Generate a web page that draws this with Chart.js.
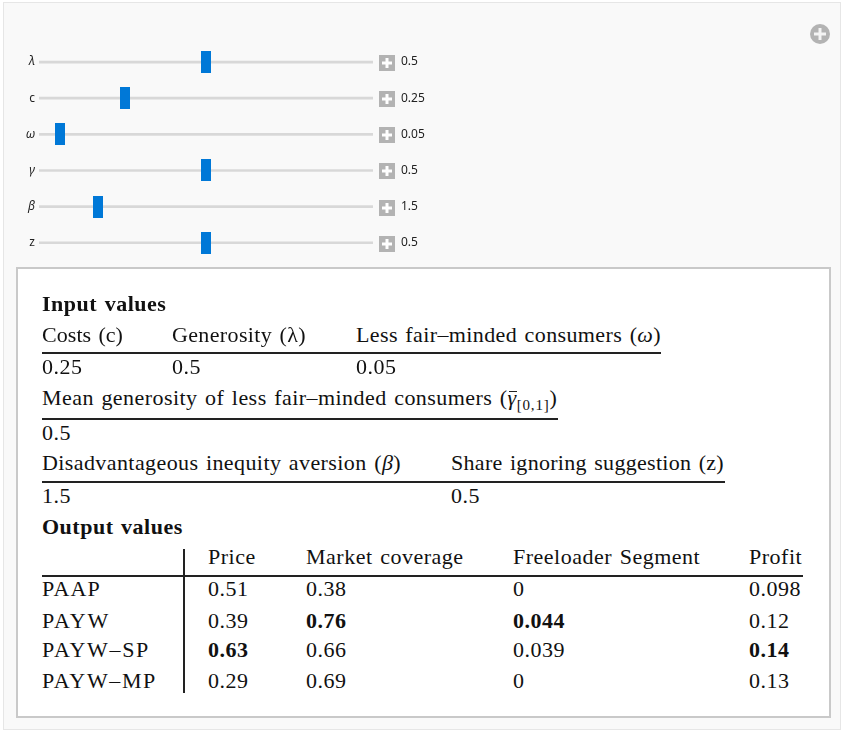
<!DOCTYPE html>
<html><head><meta charset="utf-8">
<style>
html,body{margin:0;padding:0;background:#fff;width:843px;height:732px;overflow:hidden}
#panel{position:absolute;left:3px;top:2px;width:836px;height:726px;background:#f9f9f9;border:1px solid #e6e6e6}
#box{position:absolute;left:16px;top:267px;width:811px;height:447px;background:#fff;border:2px solid #c9c9c9}
#cv{position:absolute;left:0;top:0}
.t{position:absolute;white-space:nowrap;font:22px "Liberation Serif",serif;color:#111;line-height:24px;letter-spacing:.5px;word-spacing:1.6px}
.b{font-weight:bold}
.r{position:absolute;background:#222}
sub{font-size:15px;line-height:0;vertical-align:-5px;letter-spacing:.8px}
.gb{position:relative;font-style:italic}
.gb::before{content:"";position:absolute;left:1px;right:0;top:6px;height:1px;background:#222}
</style></head><body>
<div id="panel"></div><div id="box"></div>
<canvas id="cv" width="843" height="296"></canvas>
<div id="tbl"></div>
<script src="https://cdn.jsdelivr.net/npm/chart.js@4/dist/chart.umd.min.js"></script>
<script>
const sliderLabels=["λ","c","ω","γ","β","z"];
const sliderValues=[0.5,0.25,0.05,0.5,1.5,0.5];
const sliderMaxima=[1,1,1,1,9,1];
const inputTitle="Input values";
const inputHead1=["Costs (c)","Generosity (λ)","Less fair–minded consumers (<i>ω</i>)"];
const inputVals1=["0.25","0.5","0.05"];
const inputHead2=['Mean generosity of less fair–minded consumers (<span class="gb">γ</span><sub>[0,1]</sub>)'];
const inputVals2=["0.5"];
const inputHead3=["Disadvantageous inequity aversion (<i>β</i>)","Share ignoring suggestion (z)"];
const inputVals3=["1.5","0.5"];
const outputTitle="Output values";
const outputCols=["Price","Market coverage","Freeloader Segment","Profit"];
const outputRows=["PAAP","PAYW","PAYW–SP","PAYW–MP"];
const priceVals=["0.51","0.39","0.63","0.29"];
const coverageVals=["0.38","0.76","0.66","0.69"];
const freeloaderVals=["0","0.044","0.039","0"];
const profitVals=["0.098","0.12","0.14","0.13"];
const boldCells=[[2,0],[1,1],[1,2],[2,3]]; // [row, column]

const thumb=document.createElement('canvas');thumb.width=10;thumb.height=22;
const tc=thumb.getContext('2d');tc.fillStyle='#0078d7';tc.fillRect(0,0,10,22);

const decor={id:'decor',afterDraw(ch){
  const c=ch.ctx,ys=ch.scales.y,r=ch.chartArea.right;
  c.save();
  sliderLabels.forEach((_,i)=>{
    const y=Math.round(ys.getPixelForTick(i))+1,x=r+6;
    c.fillStyle='#b3b3b3';c.fillRect(x,y-8,16,16);
    c.fillStyle='#fff';c.fillRect(x+3,y-1.5,10,3);c.fillRect(x+6.5,y-5,3,10);
  });
  c.fillStyle='#b3b3b3';c.beginPath();c.arc(820,34,10,0,Math.PI*2);c.fill();
  c.fillStyle='#f4f4f4';c.fillRect(814,32.5,12,3);c.fillRect(818.5,28,3,12);
  c.restore();
}};
new Chart(document.getElementById('cv'),{
  type:'bar',
  plugins:[decor],
  data:{labels:sliderLabels,datasets:[
    {type:'line',label:'value',order:0,showLine:false,pointStyle:thumb,pointRadius:5,
     data:sliderValues.map((v,i)=>({x:v/sliderMaxima[i],y:sliderLabels[i]}))},
    {type:'bar',label:'track',order:1,barThickness:2,backgroundColor:'#d8d8d8',
     data:sliderLabels.map(()=>[-0.015,1.015])}
  ]},
  options:{
    indexAxis:'y',responsive:false,animation:false,devicePixelRatio:1,
    layout:{padding:{top:44,bottom:10,left:0,right:0}},
    plugins:{legend:{display:false},tooltip:{enabled:false},title:{display:false}},
    scales:{
      x:{type:'linear',min:-0.015,max:1.015,display:false},
      y:{type:'category',position:'left',grid:{display:false,drawTicks:false},border:{display:false},
         afterFit(s){s.width=39},
         ticks:{padding:4,color:'#222',crossAlign:'near',
           font:c=>({family:'"Noto Sans"',size:12,style:['λ','ω','γ','β'].includes(sliderLabels[c.index])?'italic':'normal'})}},
      y2:{type:'category',position:'right',labels:sliderValues.map(String),offset:true,grid:{display:false,drawTicks:false},border:{display:false},
         afterFit(s){s.width=470},
         ticks:{padding:28,color:'#222',crossAlign:'near',font:{family:'"Noto Sans"',size:12}}}
    }
  }
});

const tbl=document.getElementById('tbl');
function put(html,x,base,bold,right){
  const d=document.createElement('div');d.className='t'+(bold?' b':'');d.innerHTML=html;
  d.style.left=x+'px';d.style.top=(base-19)+'px';tbl.appendChild(d);
  if(right){
    const w=d.getBoundingClientRect().width;
    d.style.letterSpacing=(0.5+(right-x-w)/d.textContent.length)+'px';
  }
}
function rule(x,y,w,h){
  const d=document.createElement('div');d.className='r';
  d.style.cssText+=`left:${x}px;top:${y}px;width:${w}px;height:${h}px`;tbl.appendChild(d);
}
put(inputTitle,42,311,true);
const head1Right=[123,306,661];
[42,172,356].forEach((x,i)=>{put(inputHead1[i],x,342,false,head1Right[i]);put(inputVals1[i],x,374)});
rule(42,352,619,2);
put(inputHead2[0],42,405,false,557);put(inputVals2[0],42,440);rule(42,418,516,2);
const head3Right=[401,724];
[42,451].forEach((x,i)=>{put(inputHead3[i],x,470,false,head3Right[i]);put(inputVals3[i],x,503)});
rule(42,481,683,2);
put(outputTitle,42,534,true);
const colX=[208,306,513,749];
outputCols.forEach((h,i)=>put(h,colX[i],564));
rule(42,575,761,2);rule(183,549,2,144);
const baseY=[596,628,657,688];
const rowRight=[101,110,150,157];
const colVals=[priceVals,coverageVals,freeloaderVals,profitVals];
outputRows.forEach((n,r)=>{
  put(n,42,baseY[r],false,rowRight[r]);
  colVals.forEach((col,c)=>put(col[r],colX[c],baseY[r],boldCells.some(b=>b[0]===r&&b[1]===c)));
});
</script></body></html>
